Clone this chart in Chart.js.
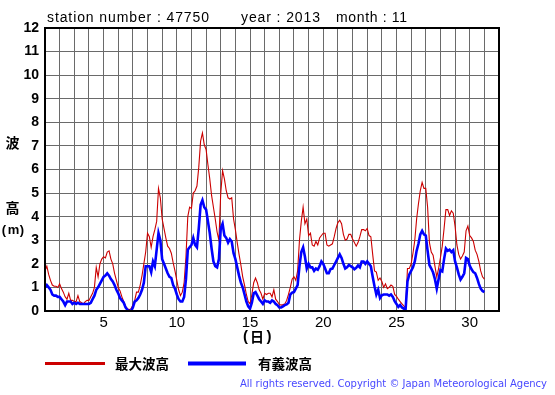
<!DOCTYPE html>
<html>
<head>
<meta charset="utf-8">
<script src="https://cdn.jsdelivr.net/npm/chart.js@4.4.0/dist/chart.umd.min.js"></script>
<style>
  body { margin: 0; background: #fff; }
</style>
</head>
<body>
<canvas id="waveChart" width="555" height="395"></canvas>
<script>
// station 47750, November 2013, values every 3 hours from day 1 00h to day 31 00h
const stationNo = '47750';
const year = 2013;
const month = 11;
const startDay = 1;
const stepHours = 3;
const dayTicks = [5, 10, 15, 20, 25, 30];

// 最大波高 (max wave height, m)
const maxWave = [
  1.7, 1.9, 1.55, 1.3, 1.1, 1.05, 1.05, 1.0,
  1.15, 0.95, 0.8, 0.6, 0.5, 0.75, 0.45, 0.45,
  0.4, 0.4, 0.65, 0.4, 0.35, 0.3, 0.4, 0.45,
  0.45, 0.6, 0.75, 1.0, 1.85, 1.45, 2.0, 2.2,
  2.3, 2.25, 2.5, 2.55, 2.2, 2.0, 1.6, 1.3,
  1.0, 0.85, 0.6, 0.4, 0.2, 0.1, 0.05, 0.1,
  0.25, 0.45, 0.8, 0.8, 1.1, 1.5, 2.0, 2.5,
  3.3, 3.15, 2.7, 3.15, 3.45, 3.8, 5.2, 4.8,
  3.9, 3.5, 3.1, 2.75, 2.65, 2.45, 2.05, 1.7,
  1.3, 0.9, 0.65, 0.8, 1.2, 2.3, 4.0, 4.4,
  4.35, 5.0, 5.1, 5.3, 6.1, 7.2, 7.55, 7.05,
  6.85, 6.2, 5.6, 4.9, 4.4, 3.9, 3.35, 3.0,
  5.0, 5.95, 5.6, 5.1, 4.8, 4.75, 4.8, 3.9,
  3.45, 2.9, 2.4, 1.95, 1.45, 1.1, 0.7, 0.4,
  0.3, 0.7, 1.2, 1.4, 1.2, 0.9, 0.75, 0.5,
  0.75, 0.7, 0.75, 0.75, 0.6, 0.9, 0.5, 0.4,
  0.28, 0.25, 0.27, 0.3, 0.45, 0.7, 1.0, 1.35,
  1.45, 1.3, 1.7, 3.0, 3.8, 4.4, 3.7, 3.9,
  3.2, 3.3, 2.8, 2.75, 2.95, 2.8, 3.1, 3.2,
  3.3, 3.3, 2.8, 2.75, 2.8, 2.85, 3.15, 3.5,
  3.75, 3.85, 3.7, 3.25, 3.0, 3.05, 3.25, 3.25,
  3.05, 2.9, 2.75, 2.9, 3.15, 3.45, 3.45, 3.4,
  3.5, 3.2, 3.15, 2.4, 1.7, 1.65, 1.3, 1.4,
  1.25, 1.0, 1.15, 0.95, 1.0, 1.1, 1.05, 0.7,
  0.62, 0.5, 0.4, 0.3, 0.22, 0.15, 1.8, 1.8,
  2.0, 2.45, 3.0, 3.9, 4.55, 5.1, 5.45, 5.2,
  5.2, 4.4, 2.9, 2.5, 2.37, 1.9, 1.45, 1.8,
  2.25, 2.75, 3.5, 4.3, 4.3, 4.05, 4.25, 4.15,
  3.6, 2.8, 2.4, 2.2, 2.33, 2.5, 3.4, 3.6,
  3.2, 3.1, 2.95, 2.58, 2.4, 2.1, 1.7, 1.45,
  1.35
];

// 有義波高 (significant wave height, m)
const sigWave = [
  1.0, 1.1, 1.0, 0.9, 0.7, 0.65, 0.65, 0.6,
  0.6, 0.5, 0.4, 0.25, 0.4, 0.4, 0.4, 0.3,
  0.35, 0.3, 0.35, 0.3, 0.3, 0.3, 0.3, 0.3,
  0.3, 0.35, 0.5, 0.65, 0.9, 1.0, 1.15, 1.3,
  1.45, 1.5, 1.6, 1.5, 1.35, 1.25, 1.1, 0.9,
  0.75, 0.55, 0.45, 0.35, 0.15, 0.05, 0, 0,
  0.15, 0.4, 0.45, 0.55, 0.7, 0.9, 1.2, 1.9,
  1.9, 1.9, 1.65, 2.1, 1.9, 2.6, 3.3, 3.0,
  2.2, 2.0, 1.8, 1.6, 1.45, 1.4, 1.1, 0.95,
  0.7, 0.5, 0.4, 0.4, 0.6, 1.35, 2.6, 2.7,
  2.8, 3.1, 2.8, 2.7, 3.5, 4.5, 4.7, 4.4,
  4.3, 3.8, 3.3, 2.65, 2.1, 1.9, 1.85, 2.2,
  3.5, 3.7, 3.2, 3.1, 2.9, 3.05, 2.95, 2.45,
  2.2, 1.85, 1.5, 1.2, 1.0, 0.7, 0.4, 0.2,
  0.1, 0.35, 0.75, 0.8, 0.65, 0.5, 0.4, 0.3,
  0.45, 0.4, 0.4, 0.35, 0.45, 0.4, 0.3, 0.25,
  0.15, 0.15, 0.2, 0.25, 0.28, 0.35, 0.7, 0.78,
  0.8, 0.95, 1.1, 1.9, 2.5, 2.7, 2.3, 1.8,
  2.0, 1.85, 1.85, 1.7, 1.8, 1.75, 1.9, 2.1,
  2.0, 1.8, 1.6, 1.6, 1.78, 1.8, 1.95, 2.1,
  2.25, 2.4, 2.25, 2.0, 1.8, 1.85, 1.95, 1.9,
  1.85, 1.77, 1.83, 1.93, 1.85, 2.1, 2.1, 2.0,
  2.1, 2.0, 1.9, 1.45, 1.05, 0.7, 0.9, 0.55,
  0.67, 0.7, 0.7, 0.7, 0.65, 0.7, 0.6, 0.42,
  0.3, 0.17, 0.25, 0.15, 0.1, 0.1, 1.25, 1.55,
  1.7, 1.85, 2.1, 2.55, 2.85, 3.25, 3.4, 3.25,
  3.2, 2.55, 1.95, 1.8, 1.63, 1.35, 0.95, 1.35,
  1.73, 1.68, 2.2, 2.65, 2.55, 2.6, 2.5, 2.58,
  2.1, 1.85, 1.55, 1.33, 1.45, 1.6, 2.25, 2.2,
  1.92, 1.77, 1.65, 1.6, 1.4, 1.15, 0.95, 0.85,
  0.8
];

const RED = '#cc0000';
const BLUE = '#0000ff';
const LATIN = '"Liberation Sans", Arial, sans-serif';
const CJK = '"Noto Sans CJK JP", sans-serif';

function toPoints(values) {
  return values.map((v, i) => ({ x: startDay + i * stepHours / 24, y: v }));
}

// draw text stretched with letter spacing to cover a given width
function spacedText(ctx, text, x, y, width) {
  ctx.letterSpacing = '0px';
  const w = ctx.measureText(text).width;
  ctx.letterSpacing = ((width - w) / (text.length - 1)) + 'px';
  ctx.fillText(text, x, y);
  ctx.letterSpacing = '0px';
}

const frameAndText = {
  id: 'frameAndText',
  afterDraw(chart) {
    const ctx = chart.ctx, a = chart.chartArea;
    ctx.save();
    // plot frame
    ctx.strokeStyle = '#000';
    ctx.lineWidth = 2;
    ctx.strokeRect(a.left, a.top, a.right - a.left, a.bottom - a.top);

    // header
    ctx.fillStyle = '#000';
    ctx.textBaseline = 'alphabetic';
    ctx.textAlign = 'left';
    ctx.font = '14px ' + LATIN;
    spacedText(ctx, 'station number : ' + stationNo, 47, 22, 162);
    spacedText(ctx, 'year : ' + year, 241, 22, 79);
    spacedText(ctx, 'month : ' + month, 336, 22, 71);

    // y axis title
    ctx.textAlign = 'center';
    ctx.textBaseline = 'middle';
    ctx.font = 'bold 14px ' + CJK;
    ctx.fillText('波', 12.5, 143);
    ctx.fillText('高', 12.5, 207.5);
    ctx.font = 'bold 13px ' + LATIN;
    ctx.fillText('(', 4, 230);
    ctx.fillText('m', 13.5, 230);
    ctx.fillText(')', 22, 230);

    // x axis title
    ctx.font = 'bold 14px ' + CJK;
    ctx.fillText('日', 257, 337);
    ctx.font = 'bold 15px ' + LATIN;
    ctx.fillText('(', 245.5, 337);
    ctx.fillText(')', 269, 337);

    // legend
    ctx.fillStyle = RED;
    ctx.fillRect(45, 362, 60, 3);
    ctx.fillStyle = BLUE;
    ctx.fillRect(188, 361.5, 58, 4);
    ctx.fillStyle = '#000';
    ctx.textAlign = 'left';
    ctx.font = 'bold 13.5px ' + CJK;
    spacedText(ctx, '最大波高', 115, 364, 54);
    spacedText(ctx, '有義波高', 258, 364, 54);

    // credit
    ctx.fillStyle = '#4848ff';
    ctx.font = '10px "DejaVu Sans", sans-serif';
    spacedText(ctx, 'All rights reserved. Copyright © Japan Meteorological Agency', 240, 384, 307);
    ctx.restore();
  }
};

const config = {
  type: 'line',
  data: {
    datasets: [{
      label: '有義波高',
      data: toPoints(sigWave),
      borderColor: BLUE,
      borderWidth: 2.6,
      pointRadius: 0,
      order: 0
    }, {
      label: '最大波高',
      data: toPoints(maxWave),
      borderColor: RED,
      borderWidth: 1.1,
      pointRadius: 0,
      order: 1
    }]
  },
  options: {
    responsive: false,
    animation: false,
    layout: { padding: { left: 0, top: 28, right: 56, bottom: 0 } },
    plugins: {
      legend: { display: false },
      tooltip: { enabled: false }
    },
    scales: {
      x: {
        type: 'linear',
        min: 1,
        max: 32,
        afterFit: scale => { scale.height = 84; },
        grid: { color: '#6a6a6a', drawTicks: false },
        border: { display: false },
        ticks: {
          stepSize: 1,
          autoSkip: false,
          maxRotation: 0,
          padding: 3,
          color: '#000',
          font: { family: LATIN, size: 15 },
          callback: v => dayTicks.includes(v) ? String(v) : ''
        }
      },
      y: {
        min: 0,
        max: 12,
        afterFit: scale => { scale.width = 45; },
        grid: { color: '#6a6a6a', drawTicks: false },
        border: { display: false },
        ticks: {
          stepSize: 1,
          padding: 6,
          color: '#000',
          font: { family: LATIN, size: 14, weight: 'bold' }
        }
      }
    }
  },
  plugins: [frameAndText]
};

var waveChart = new Chart(document.getElementById('waveChart'), config);
</script>
</body>
</html>
